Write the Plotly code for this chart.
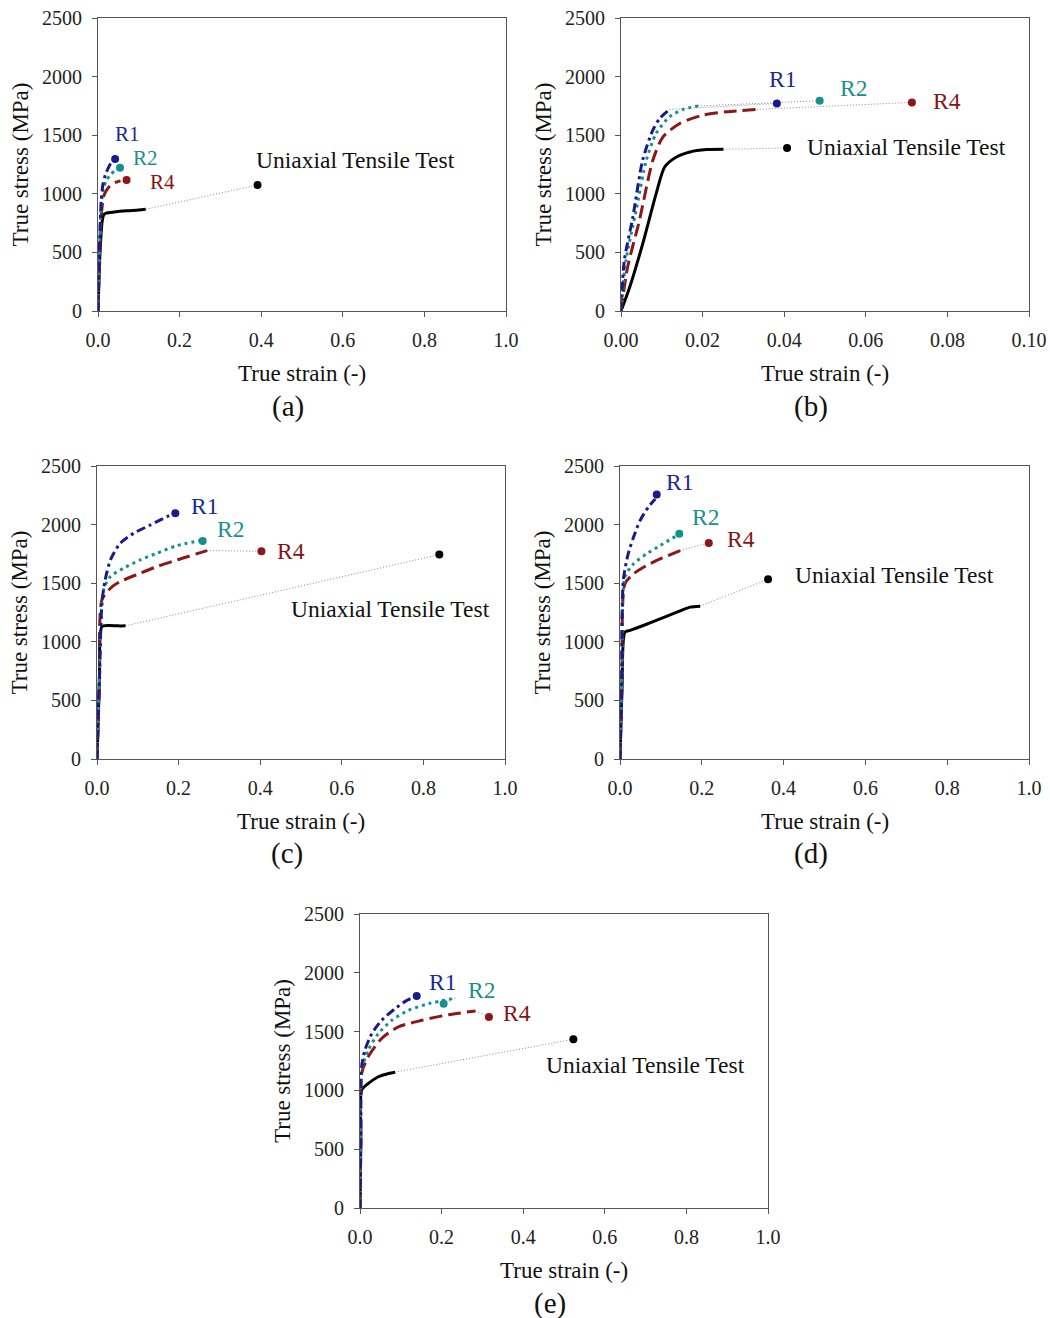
import plotly.graph_objects as go

# ---------------- data: true strain (-) / true stress (MPa) ----------------
# panel (a)
A_R1_STRAIN = [0, 0.004, 0.008, 0.012, 0.018, 0.025, 0.032, 0.038]
A_R1_STRESS = [0, 600, 950, 1080, 1160, 1220, 1265, 1290]
A_R2_STRAIN = [0, 0.004, 0.008, 0.013, 0.020, 0.030, 0.040, 0.048]
A_R2_STRESS = [0, 550, 900, 1040, 1110, 1160, 1195, 1215]
A_R4_STRAIN = [0, 0.004, 0.009, 0.015, 0.025, 0.035, 0.045, 0.055]
A_R4_STRESS = [0, 500, 850, 990, 1050, 1085, 1100, 1110]
A_UT_STRAIN = [0, 0.005, 0.010, 0.014, 0.020, 0.040, 0.070, 0.100, 0.117]
A_UT_STRESS = [0, 500, 760, 820, 835, 845, 855, 862, 868]
A_FRACTURE_STRAIN = [0.042, 0.054, 0.070, 0.391]   # R1, R2, R4, uniaxial
A_FRACTURE_STRESS = [1297, 1222, 1118, 1075]

# panel (b)
B_R1_STRAIN = [0, 0.0008, 0.0029, 0.0053, 0.0078, 0.0095, 0.0119]
B_R1_STRESS = [0, 428, 800, 1286, 1543, 1643, 1720]
B_R2_STRAIN = [0, 0.0012, 0.0037, 0.0062, 0.0086, 0.0119, 0.0152, 0.0189]
B_R2_STRESS = [0, 428, 857, 1286, 1514, 1657, 1720, 1749]
B_R4_STRAIN = [0, 0.0016, 0.0045, 0.0078, 0.0103, 0.0144, 0.0201, 0.0259, 0.0333]
B_R4_STRESS = [0, 371, 771, 1286, 1486, 1600, 1671, 1700, 1720]
B_UT_STRAIN = [0, 0.0021, 0.0053, 0.0086, 0.0107, 0.0136, 0.0169, 0.0210, 0.0251]
B_UT_STRESS = [0, 200, 571, 1000, 1229, 1314, 1357, 1377, 1380]
B_FRACTURE_STRAIN = [0.0382, 0.0487, 0.0713, 0.0407]
B_FRACTURE_STRESS = [1771, 1794, 1780, 1391]

# panel (c)
C_R1_STRAIN = [0, 0.006, 0.012, 0.020, 0.033, 0.057, 0.090, 0.131, 0.172, 0.190]
C_R1_STRESS = [0, 700, 1330, 1528, 1699, 1841, 1926, 1997, 2068, 2095]
C_R2_STRAIN = [0, 0.006, 0.016, 0.033, 0.065, 0.106, 0.147, 0.196, 0.254]
C_R2_STRESS = [0, 700, 1443, 1557, 1628, 1699, 1756, 1821, 1865]
C_R4_STRAIN = [0, 0.006, 0.012, 0.033, 0.057, 0.106, 0.147, 0.196, 0.270]
C_R4_STRESS = [0, 650, 1358, 1457, 1514, 1585, 1642, 1699, 1778]
C_UT_STRAIN = [0, 0.006, 0.012, 0.030, 0.050, 0.070]
C_UT_STRESS = [0, 700, 1131, 1140, 1136, 1136]
C_FRACTURE_STRAIN = [0.192, 0.259, 0.403, 0.839]
C_FRACTURE_STRESS = [2097, 1861, 1773, 1744]

# panel (d)
D_R1_STRAIN = [0, 0.004, 0.008, 0.020, 0.033, 0.049, 0.069, 0.086]
D_R1_STRESS = [0, 700, 1523, 1750, 1892, 2034, 2148, 2219]
D_R2_STRAIN = [0, 0.005, 0.012, 0.033, 0.065, 0.098, 0.139]
D_R2_STRESS = [0, 700, 1551, 1665, 1750, 1821, 1906]
D_R4_STRAIN = [0, 0.005, 0.012, 0.033, 0.065, 0.098, 0.147]
D_R4_STRESS = [0, 650, 1494, 1580, 1651, 1707, 1778]
D_UT_STRAIN = [0, 0.005, 0.012, 0.0245, 0.057, 0.098, 0.139, 0.171, 0.196]
D_UT_STRESS = [0, 600, 1082, 1097, 1139, 1196, 1253, 1296, 1304]
D_FRACTURE_STRAIN = [0.0898, 0.145, 0.217, 0.362]
D_FRACTURE_STRESS = [2256, 1921, 1844, 1534]

# panel (e)
E_R1_STRAIN = [0, 0.002, 0.004, 0.012, 0.029, 0.053, 0.086, 0.115, 0.135]
E_R1_STRESS = [0, 600, 1200, 1342, 1483, 1596, 1695, 1766, 1794]
E_R2_STRAIN = [0, 0.002, 0.004, 0.020, 0.045, 0.078, 0.119, 0.168, 0.234]
E_R2_STRESS = [0, 600, 1172, 1342, 1483, 1596, 1681, 1737, 1785]
E_R4_STRAIN = [0, 0.002, 0.004, 0.020, 0.053, 0.094, 0.152, 0.217, 0.283]
E_R4_STRESS = [0, 550, 1144, 1285, 1441, 1540, 1596, 1644, 1675]
E_UT_STRAIN = [0, 0.002, 0.004, 0.0205, 0.045, 0.070, 0.086]
E_UT_STRESS = [0, 600, 1003, 1059, 1116, 1144, 1155]
E_FRACTURE_STRAIN = [0.139, 0.205, 0.316, 0.523]
E_FRACTURE_STRESS = [1802, 1737, 1624, 1435]

SERIES_NAMES = ["R1", "R2", "R4", "Uniaxial Tensile Test"]
STRESS_TICKS = [0, 500, 1000, 1500, 2000, 2500]
STRAIN_TICKS_WIDE = [0.0, 0.2, 0.4, 0.6, 0.8, 1.0]
STRAIN_TICKS_NARROW = [0.00, 0.02, 0.04, 0.06, 0.08, 0.10]
PANEL_LABELS = ["(a)", "(b)", "(c)", "(d)", "(e)"]

# label positions (strain, stress) for R1, R2, R4, uniaxial text
A_LABEL_POS = [(0.0735, 1506), (0.1176, 1305), (0.157, 1101), (0.632, 1288)]
B_LABEL_POS = [(0.0397, 1980), (0.0569, 1903), (0.0798, 1792), (0.0699, 1399)]
C_LABEL_POS = [(0.263, 2161), (0.327, 1965), (0.476, 1777), (0.719, 1282)]
D_LABEL_POS = [(0.145, 2361), (0.208, 2063), (0.297, 1875), (0.672, 1568)]
E_LABEL_POS = [(0.201, 1922), (0.297, 1854), (0.385, 1658), (0.699, 1214)]

# ---------------- styling ----------------
W, H = 1050, 1318
FONT = "Liberation Serif, Times New Roman, serif"
COLORS = ["#1a1a8c", "#16908f", "#8c1717", "#000000"]
DASHES = ["9px,4px,3px,4px", "3px,4px", "13px,6px", "solid"]
TEXT_COLORS = ["#1c2a8e", "#1a8f8c", "#861414", "#111111"]
DRAW_ORDER = [3, 2, 1, 0]   # uniaxial underneath, R1 on top
R_LABEL_SIZES = [21, 23.5, 23.5, 23.5, 23.5]   # panel (a) labels sit tighter

# plot area boxes in pixels: left, right, top, bottom
BOXES = [(98, 506, 18, 311), (621, 1029, 18, 311),
         (97, 505, 466, 759), (620, 1029, 466, 759),
         (360, 768, 914, 1208)]

panels = [
    ([A_R1_STRAIN, A_R2_STRAIN, A_R4_STRAIN, A_UT_STRAIN],
     [A_R1_STRESS, A_R2_STRESS, A_R4_STRESS, A_UT_STRESS],
     A_FRACTURE_STRAIN, A_FRACTURE_STRESS, A_LABEL_POS, STRAIN_TICKS_WIDE),
    ([B_R1_STRAIN, B_R2_STRAIN, B_R4_STRAIN, B_UT_STRAIN],
     [B_R1_STRESS, B_R2_STRESS, B_R4_STRESS, B_UT_STRESS],
     B_FRACTURE_STRAIN, B_FRACTURE_STRESS, B_LABEL_POS, STRAIN_TICKS_NARROW),
    ([C_R1_STRAIN, C_R2_STRAIN, C_R4_STRAIN, C_UT_STRAIN],
     [C_R1_STRESS, C_R2_STRESS, C_R4_STRESS, C_UT_STRESS],
     C_FRACTURE_STRAIN, C_FRACTURE_STRESS, C_LABEL_POS, STRAIN_TICKS_WIDE),
    ([D_R1_STRAIN, D_R2_STRAIN, D_R4_STRAIN, D_UT_STRAIN],
     [D_R1_STRESS, D_R2_STRESS, D_R4_STRESS, D_UT_STRESS],
     D_FRACTURE_STRAIN, D_FRACTURE_STRESS, D_LABEL_POS, STRAIN_TICKS_WIDE),
    ([E_R1_STRAIN, E_R2_STRAIN, E_R4_STRAIN, E_UT_STRAIN],
     [E_R1_STRESS, E_R2_STRESS, E_R4_STRESS, E_UT_STRESS],
     E_FRACTURE_STRAIN, E_FRACTURE_STRESS, E_LABEL_POS, STRAIN_TICKS_WIDE),
]


def px_x(p):
    return p / W


def px_y(p):
    return 1 - p / H


fig = go.Figure()
annotations = []

for i, (strains, stresses, fx, fy, label_pos, xticks) in enumerate(panels):
    n = "" if i == 0 else str(i + 1)
    xa, ya = "x" + n, "y" + n
    left, right, top, bottom = BOXES[i]

    for k in DRAW_ORDER:
        # dotted link from the last recorded point to the fracture point
        fig.add_trace(go.Scatter(
            x=[strains[k][-1], fx[k]], y=[stresses[k][-1], fy[k]],
            mode="lines", xaxis=xa, yaxis=ya, showlegend=False,
            line=dict(color="#8a8a8a", width=1, dash="1px,2px"),
            hoverinfo="skip"))
        # measured flow curve
        fig.add_trace(go.Scatter(
            x=strains[k], y=stresses[k], mode="lines",
            xaxis=xa, yaxis=ya, showlegend=False, name=SERIES_NAMES[k],
            line=dict(color=COLORS[k], width=3, dash=DASHES[k],
                      shape="spline", smoothing=0.7)))
        # fracture point
        fig.add_trace(go.Scatter(
            x=[fx[k]], y=[fy[k]], mode="markers",
            xaxis=xa, yaxis=ya, showlegend=False, name=SERIES_NAMES[k],
            marker=dict(color=COLORS[k], size=8)))

    for k in range(4):
        lx, ly = label_pos[k]
        size = 23.5 if k == 3 else R_LABEL_SIZES[i]
        annotations.append(dict(
            x=lx, y=ly, xref=xa, yref=ya, text=SERIES_NAMES[k],
            showarrow=False, xanchor="center", yanchor="middle",
            borderpad=0,
            font=dict(family=FONT, size=size, color=TEXT_COLORS[k])))

    xmax = xticks[-1]
    axis_common = dict(showline=True, linecolor="#555555", linewidth=1,
                       mirror=True, ticks="outside", ticklen=5,
                       tickcolor="#555555", showgrid=False, zeroline=False,
                       automargin=False,
                       tickfont=dict(family=FONT, size=20, color="#222222"))
    fig.layout["xaxis" + n] = dict(
        domain=[px_x(left), px_x(right)], anchor=ya,
        range=[0, xmax], tickvals=xticks,
        tickformat=".2f" if xmax < 0.5 else ".1f",
        ticklabelstandoff=6, **axis_common)
    fig.layout["yaxis" + n] = dict(
        domain=[px_y(bottom), px_y(top)], anchor=xa,
        range=[0, 2500], tickvals=STRESS_TICKS,
        ticklabelstandoff=6, **axis_common)

    cx = (left + right) / 2
    annotations.append(dict(
        x=px_x(cx), y=px_y(bottom + 62), xref="paper", yref="paper",
        text="True strain (-)", showarrow=False,
        xanchor="center", yanchor="middle",
        font=dict(family=FONT, size=23, color="#111111")))
    annotations.append(dict(
        x=px_x(left - 78), y=px_y((top + bottom) / 2), xref="paper",
        yref="paper", text="True stress (MPa)", showarrow=False,
        textangle=-90, xanchor="center", yanchor="middle",
        font=dict(family=FONT, size=23, color="#111111")))
    annotations.append(dict(
        x=px_x(cx - 14), y=px_y(bottom + 95), xref="paper", yref="paper",
        text=PANEL_LABELS[i], showarrow=False,
        xanchor="center", yanchor="middle",
        font=dict(family=FONT, size=29, color="#111111")))

fig.update_layout(
    width=W, height=H,
    margin=dict(l=0, r=0, t=0, b=0, autoexpand=False),
    paper_bgcolor="white", plot_bgcolor="white",
    annotations=annotations,
)

fig.write_html("out.html")
